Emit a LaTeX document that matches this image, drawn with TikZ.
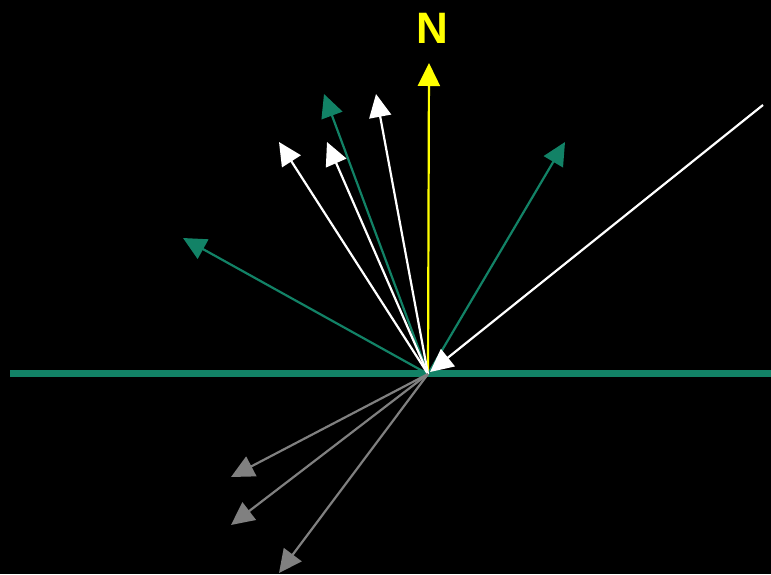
\documentclass[tikz,border=0pt]{standalone}
\usepackage{fontspec}
\setmainfont{Liberation Sans}
\usetikzlibrary{arrows.meta}
\definecolor{tealg}{RGB}{18,130,102}
\definecolor{grayv}{RGB}{128,128,128}
\definecolor{yel}{RGB}{255,255,0}
\begin{document}
\begin{tikzpicture}[x=1pt,y=-1pt,
  vec/.style={line width=2.2pt,-{Triangle[length=23pt,width=22pt]}},
  wvec/.style={vec,white},
  gvec/.style={vec,tealg},
  svec/.style={vec,grayv},
  nvec/.style={vec,yel}]
\fill[black] (0,0) rectangle (771,574);
\useasboundingbox (0,0) rectangle (771,574);
\coordinate (o) at (428,374);
\coordinate (L) at (10,373);
\coordinate (R) at (771,373);
\draw[tealg,line width=7pt] (L) -- (R);
% normal
\coordinate (n) at (429,63);
\draw[nvec] (o) -- (n);
\node[text=yel,font=\bfseries\fontsize{44}{44}\selectfont] (N) at (432,28) {N};
% green
\coordinate (g1) at (324,94);
\coordinate (g2) at (565,142);
\coordinate (g3) at (183,238);
\draw[gvec] (o) -- (g1);
\draw[gvec] (o) -- (g2);
\draw[gvec] (o) -- (g3);
% white
\coordinate (w1) at (376,94);
\coordinate (w2) at (327,142);
\coordinate (w3) at (279,142);
\draw[wvec] (o) -- (w1);
\draw[wvec] (o) -- (w2);
\draw[wvec] (o) -- (w3);
% incident
\coordinate (s) at (763,105);
\coordinate (hit) at (430,372);
\draw[wvec] (s) -- (hit);
% gray
\coordinate (d1) at (231,477);
\coordinate (d2) at (231,525);
\coordinate (d3) at (279,573);
\draw[svec] (o) -- (d1);
\draw[svec] (o) -- (d2);
\draw[svec] (o) -- (d3);
\end{tikzpicture}
\end{document}
